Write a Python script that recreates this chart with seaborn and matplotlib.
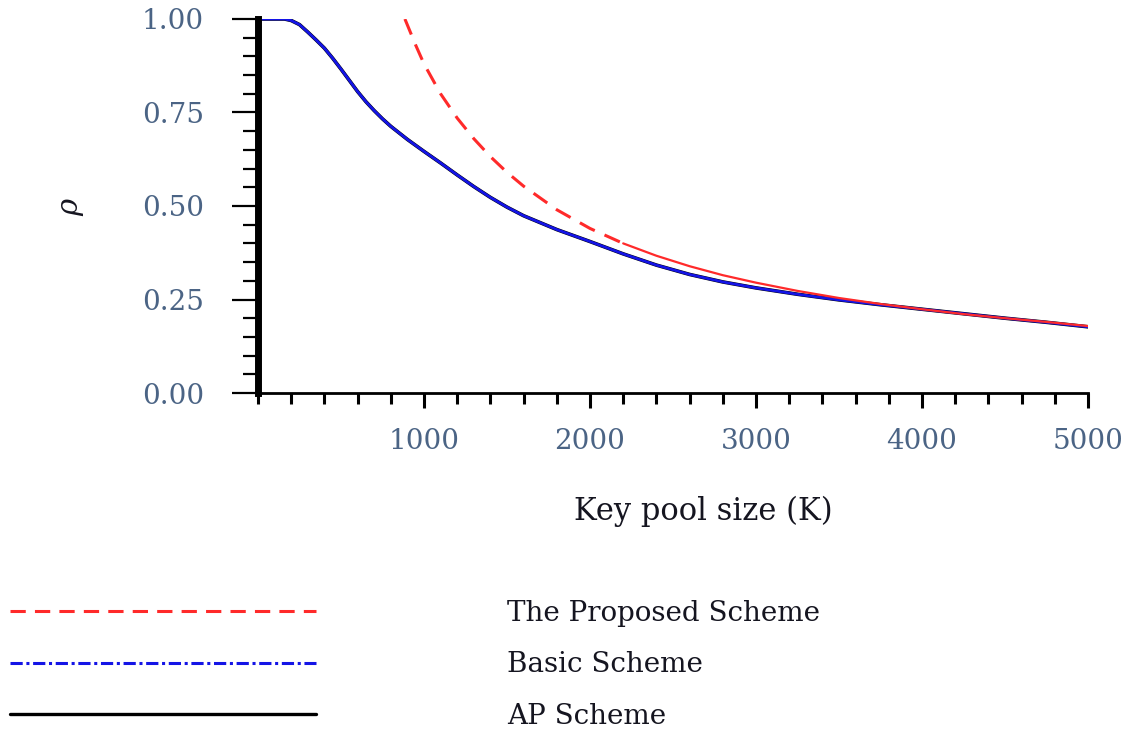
import matplotlib
matplotlib.use("Agg")
import matplotlib.pyplot as plt
from matplotlib.lines import Line2D
from matplotlib.ticker import MultipleLocator, FormatStrFormatter
import pandas as pd
import seaborn as sns

# Key pool size K and the resulting rho for each scheme
basic_k = [0, 100, 160, 200, 250, 300, 350, 400, 450, 500, 550, 600, 650,
           700, 750, 800, 900, 1000, 1100, 1200, 1300, 1400, 1500, 1600,
           1800, 2000, 2200, 2400, 2600, 2800, 3000, 3250, 3500, 3750, 4000,
           4250, 4500, 4750, 5000]
basic_rho = [1.0, 1.0, 1.0, 0.996, 0.985, 0.965, 0.944, 0.922, 0.895, 0.866,
             0.836, 0.806, 0.779, 0.755, 0.733, 0.713, 0.678, 0.646, 0.615,
             0.583, 0.552, 0.523, 0.497, 0.474, 0.437, 0.405, 0.372, 0.342,
             0.317, 0.297, 0.281, 0.264, 0.249, 0.236, 0.224, 0.212, 0.2,
             0.189, 0.177]

ap_k = basic_k
ap_rho = [1.0, 1.0, 1.0, 0.996, 0.985, 0.965, 0.944, 0.922, 0.895, 0.866,
          0.836, 0.806, 0.779, 0.755, 0.733, 0.713, 0.678, 0.646, 0.615,
          0.583, 0.552, 0.523, 0.497, 0.474, 0.437, 0.405, 0.372, 0.342,
          0.317, 0.297, 0.281, 0.264, 0.249, 0.236, 0.224, 0.212, 0.2,
          0.189, 0.177]

proposed_k = [885, 950, 1000, 1100, 1200, 1300, 1400, 1500, 1600, 1800, 2000,
              2200, 2400, 2600, 2800, 3000, 3250, 3500, 3750, 4000, 4250,
              4500, 4750, 5000]
proposed_rho = [1.0, 0.93, 0.88, 0.80, 0.735, 0.68, 0.632, 0.59, 0.553,
                0.49, 0.44, 0.40, 0.367, 0.339, 0.315, 0.295, 0.273, 0.254,
                0.238, 0.224, 0.211, 0.2, 0.19, 0.179]

series_labels = ["The Proposed Scheme", "Basic Scheme", "AP Scheme"]
x_label = "Key pool size (K)"
y_label = r"$\rho$"

RED = "#ff2a2a"
BLUE = "#1414e6"
TICK_COLOR = "#4b6485"
TEXT_COLOR = "#151520"

sns.set_style("white")
plt.rcParams["font.family"] = ["DejaVu Serif"]
plt.rcParams["mathtext.fontset"] = "dejavuserif"

fig = plt.figure(figsize=(11.37, 7.33), dpi=100)
ax = fig.add_axes([258 / 1137, 1 - 393 / 733, 830 / 1137, 374 / 733])

ap_df = pd.DataFrame({"K": ap_k, "rho": ap_rho})
basic_df = pd.DataFrame({"K": basic_k, "rho": basic_rho})
prop_df = pd.DataFrame({"K": proposed_k, "rho": proposed_rho})

sns.lineplot(data=ap_df, x="K", y="rho", ax=ax, color="black", lw=2.6,
             sort=False, estimator=None)
sns.lineplot(data=basic_df, x="K", y="rho", ax=ax, color=BLUE, lw=2.0,
             sort=False, estimator=None)
# the proposed curve is dashed while steep and continues as a solid line
split = 2200
sns.lineplot(data=prop_df[prop_df.K <= split], x="K", y="rho", ax=ax,
             color=RED, lw=2.2, sort=False,
             estimator=None).lines[-1].set_dashes([5.5, 3.5])
sns.lineplot(data=prop_df[prop_df.K >= split], x="K", y="rho", ax=ax,
             color=RED, lw=1.6, sort=False, estimator=None)

ax.set_xlim(0, 5000)
ax.set_ylim(0, 1.0)

for side in ["top", "right"]:
    ax.spines[side].set_visible(False)
ax.spines["left"].set_linewidth(5)
ax.spines["left"].set_color("black")
ax.spines["bottom"].set_linewidth(2)
ax.spines["bottom"].set_color("black")

ax.xaxis.set_major_locator(MultipleLocator(1000))
ax.xaxis.set_minor_locator(MultipleLocator(200))
ax.yaxis.set_major_locator(MultipleLocator(0.25))
ax.yaxis.set_minor_locator(MultipleLocator(0.05))
ax.yaxis.set_major_formatter(FormatStrFormatter("%.2f"))
ax.set_xticks([1000, 2000, 3000, 4000, 5000])

ax.tick_params(axis="x", which="major", direction="out", length=11, width=2.2,
               color="black", pad=14, labelsize=20, labelcolor=TICK_COLOR,
               bottom=True)
ax.tick_params(axis="x", which="minor", direction="out", length=8, width=2.2,
               color="black", bottom=True)
ax.tick_params(axis="y", which="major", direction="out", length=19, width=1.6,
               color="black", pad=20, labelsize=20, labelcolor=TICK_COLOR,
               left=True)
ax.tick_params(axis="y", which="minor", direction="out", length=11, width=1.6,
               color="black", left=True)

ax.set_xlabel(x_label, fontsize=22, color=TEXT_COLOR)
ax.xaxis.set_label_coords((703 - 258) / 830, (393 - 496) / 374)
ax.set_ylabel(y_label, fontsize=21, color=TEXT_COLOR, rotation=90)
ax.yaxis.set_label_coords((86 - 258) / 830, 0.5)

handles = [
    Line2D([], [], color=RED, lw=2.2, dashes=[5, 3]),
    Line2D([], [], color=BLUE, lw=2.2, dashes=[4, 1.2, 1, 1.2]),
    Line2D([], [], color="black", lw=2.4),
]
fig.legend(handles, series_labels, loc="upper left",
           bbox_to_anchor=(10 / 1137, 1 - 600 / 733), frameon=False,
           fontsize=20, handlelength=11.0, handletextpad=6.9,
           labelspacing=0.88, borderpad=0, borderaxespad=0,
           labelcolor=TEXT_COLOR)

fig.savefig("out.png", dpi=100)
